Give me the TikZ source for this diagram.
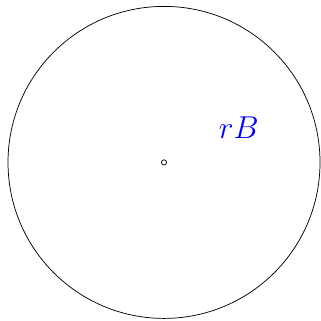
\documentclass[tikz,border=0pt]{standalone}
\usepackage{amsmath}

\begin{document}
\begin{tikzpicture}[
  lbl/.style={blue, font=\LARGE},
  ctr/.style={circle, draw, inner sep=0pt, minimum size=0.1cm}]
  \useasboundingbox (-3.154,-3.05) rectangle (3.019,3.123);
  % ball and its centre
  \node[ctr] (O) at (0,0) {};
  \draw (O.center) circle (3);
  \node[lbl] (rB) at (1.44,0.67) {$rB$};
\end{tikzpicture}
\end{document}
